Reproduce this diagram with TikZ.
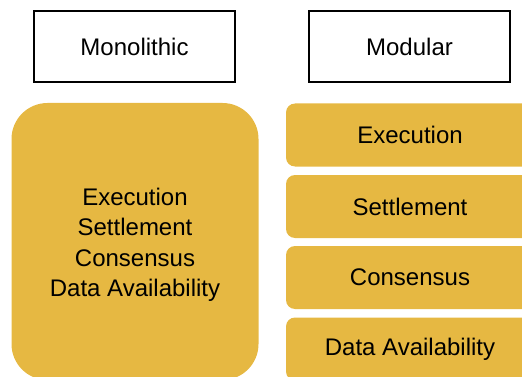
\documentclass[tikz,border=0pt]{standalone}
\usepackage{fontspec}
\setmainfont{Liberation Sans}
\definecolor{gold}{HTML}{E6B842}
\begin{document}
\begin{tikzpicture}[x=1pt,y=-1pt,
  hdr/.style={draw=black,line width=1.2pt,minimum width=201pt,minimum height=71pt,font=\fontsize{24}{29}\selectfont,inner sep=0pt},
  layer/.style={fill=gold,rounded corners=9pt,minimum width=248pt,minimum height=63pt,font=\fontsize{24}{29}\selectfont,inner sep=0pt},
  mono/.style={fill=gold,rounded corners=36pt,minimum width=247pt,minimum height=277pt,inner sep=0pt},
  monotext/.style={font=\fontsize{24}{30.5}\selectfont,align=center,inner sep=0pt}]
\useasboundingbox (0,0) rectangle (522,377);
\node[hdr] (hmono) at (134.5,46.5) {Monolithic};
\node[hdr] (hmod) at (409.5,46.5) {Modular};
\node[mono] (mono) at (135,241.5) {};
\node[monotext] (monot) at (135,245) {Execution\\Settlement\\Consensus\\Data Availability};
\node[layer] (exe) at (410,135) {Execution};
\node[layer] (set) at (410,206.5) {Settlement};
\node[layer] (con) at (410,277.5) {Consensus};
\node[layer] (da) at (410,349) {Data Availability};
\end{tikzpicture}
\end{document}
